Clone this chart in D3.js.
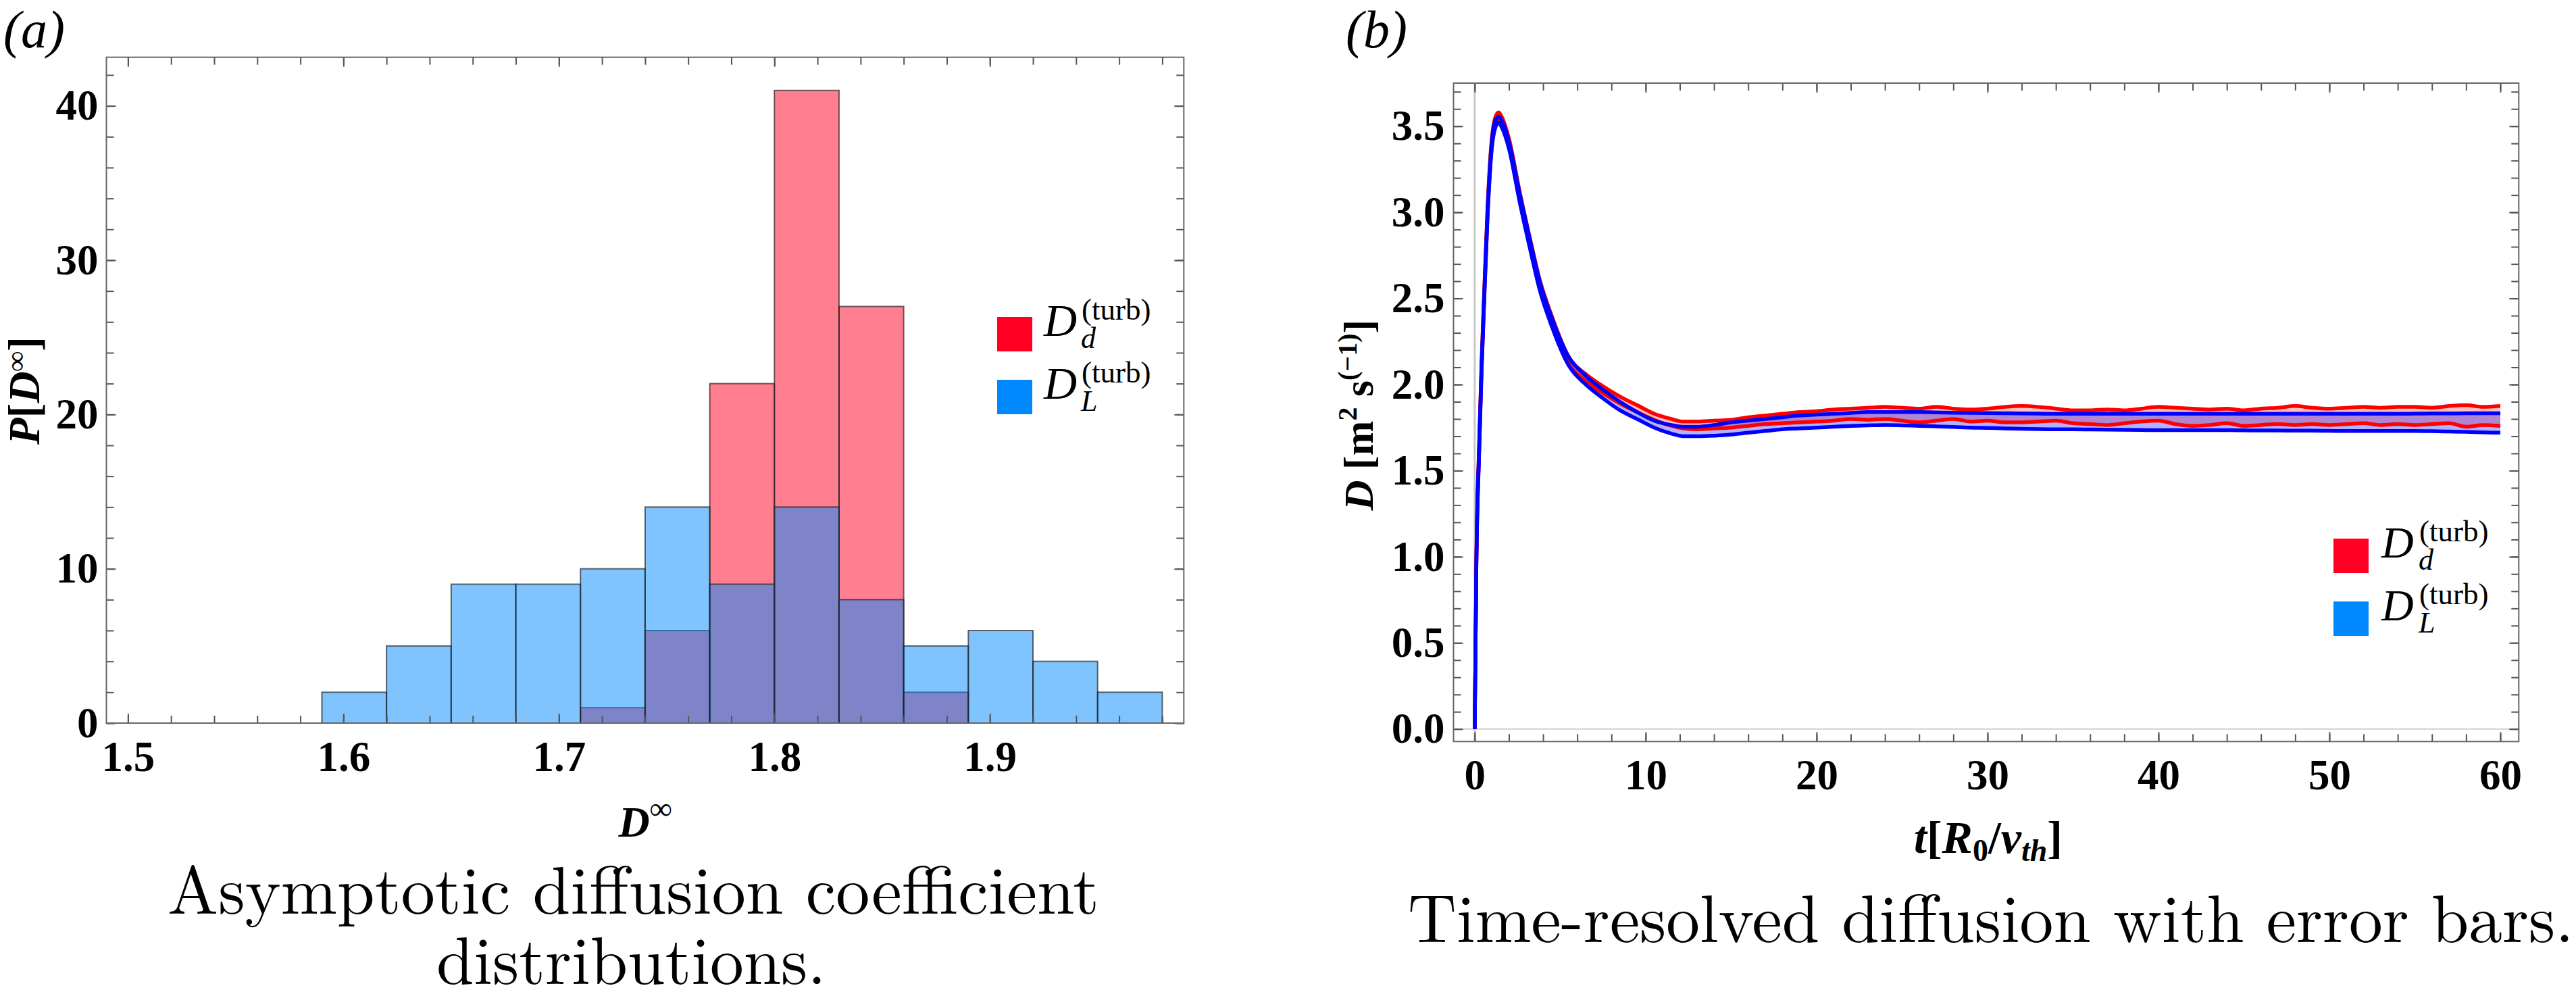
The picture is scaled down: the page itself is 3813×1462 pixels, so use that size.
<!DOCTYPE html>
<html><head><meta charset="utf-8">
<script src="https://cdn.jsdelivr.net/npm/d3@7"></script>
<style>body{margin:0;background:#fff}svg{display:block}</style>
</head><body>
<svg id="chart" width="3813" height="1462"></svg>
<script>
// ---------- Panel (a) data: histogram ----------
const aBinLeft  = [1.59,1.62,1.65,1.68,1.71,1.74,1.77,1.80,1.83,1.86,1.89,1.92,1.95];
const aBinWidth = 0.03;
const aCountsD  = [0,0,0,0,1,6,22,41,27,2,0,0,0];      // D_d^(turb)
const aCountsL  = [2,5,9,9,10,14,9,14,8,5,6,4,2];      // D_L^(turb)
const aXTicks   = [1.5,1.6,1.7,1.8,1.9];
const aYTicks   = [0,10,20,30,40];

// ---------- Panel (b) data: time-resolved bands ----------
const bTime = [0,0.1,0.25,0.4,0.55,0.75,1.0,1.2,1.4,1.6,2.0,2.65,3.3,3.8,4.5,5.5,6.5,7.5,8.5,9.5,10.5,11.5,12.2,
  13,14,15,16,17,18,19,20,21,22,23,24,25,26,27,28,29,30,31,32,33,34,35,36,37,38,39,40,
  41,42,43,44,45,46,47,48,49,50,51,52,53,54,55,56,57,58,59,60];
const bDdUpper = [0,1.02,1.63,2.13,2.53,3.03,3.43,3.55,3.58,3.55,3.43,3.11,2.82,2.61,2.40,2.16,2.06,1.99,1.93,1.88,1.83,1.80,1.785,
  1.785,1.79,1.795,1.81,1.82,1.83,1.84,1.845,1.855,1.86,1.865,1.87,1.865,1.86,1.87,1.86,1.855,1.86,1.87,1.875,1.87,1.86,1.85,1.85,1.855,1.85,1.86,1.87,
  1.865,1.86,1.855,1.86,1.85,1.86,1.865,1.875,1.865,1.86,1.865,1.87,1.865,1.87,1.87,1.865,1.875,1.88,1.87,1.875];
const bDdLower = [0,0.98,1.58,2.08,2.48,2.98,3.38,3.50,3.53,3.50,3.38,3.06,2.77,2.56,2.35,2.12,2.02,1.95,1.89,1.84,1.795,1.76,1.745,
  1.74,1.745,1.75,1.76,1.77,1.775,1.78,1.785,1.79,1.80,1.795,1.80,1.79,1.78,1.79,1.80,1.785,1.79,1.78,1.78,1.785,1.79,1.775,1.77,1.765,1.775,1.785,1.79,
  1.77,1.76,1.765,1.775,1.76,1.765,1.77,1.765,1.77,1.765,1.77,1.775,1.765,1.77,1.765,1.77,1.775,1.755,1.765,1.76];
const bDLUpper = [0,1.0,1.61,2.11,2.51,3.01,3.41,3.53,3.555,3.53,3.41,3.10,2.81,2.60,2.39,2.16,2.05,1.97,1.90,1.84,1.79,1.765,1.755,
  1.755,1.765,1.78,1.79,1.80,1.81,1.82,1.825,1.83,1.835,1.84,1.84,1.84,1.84,1.838,1.836,1.835,1.834,1.833,1.832,1.831,1.83,1.83,1.83,1.83,1.83,1.83,1.83,
  1.83,1.83,1.83,1.83,1.83,1.83,1.83,1.83,1.83,1.83,1.83,1.83,1.83,1.83,1.831,1.832,1.832,1.833,1.833,1.833];
const bDLLower = [0,0.97,1.57,2.07,2.47,2.97,3.37,3.49,3.52,3.49,3.37,3.05,2.76,2.55,2.34,2.11,2.00,1.92,1.85,1.80,1.75,1.715,1.70,
  1.70,1.703,1.71,1.72,1.73,1.74,1.745,1.75,1.755,1.76,1.763,1.765,1.763,1.76,1.757,1.754,1.75,1.748,1.745,1.743,1.741,1.74,1.74,1.739,1.738,1.737,1.736,1.735,
  1.735,1.735,1.735,1.735,1.734,1.733,1.733,1.732,1.732,1.731,1.73,1.73,1.73,1.73,1.73,1.729,1.727,1.725,1.722,1.72];
const bXTicks = [0,10,20,30,40,50,60];
const bYTicks = [0,0.5,1.0,1.5,2.0,2.5,3.0,3.5];

const legendNames = [{main:"D", sub:"d", sup:"(turb)"}, {main:"D", sub:"L", sup:"(turb)"}];
const legendColors = ["#ff0022", "#0088ff"];

// ---------- helpers ----------
const SERIF = "'Liberation Serif'";
const CM = "'Latin Modern Roman'";
const svg = d3.select("#chart");
svg.append("rect").attr("width",3813).attr("height",1462).attr("fill","#fff");

function rich(parent, x, y, parts, opts) {
  const t = parent.append("text").attr("x",x).attr("y",y)
    .attr("font-family",opts.family||SERIF).attr("font-size",opts.size).attr("fill","#000")
    .attr("text-anchor",opts.anchor||"middle");
  if (opts.transform) t.attr("transform",opts.transform);
  let prev = 0;
  parts.forEach(p => {
    const s = p.shift||0;
    const ts = t.append("tspan").text(p.t)
      .attr("font-style",p.italic?"italic":"normal")
      .attr("font-weight",p.bold?"bold":"normal");
    if (p.size) ts.attr("font-size",p.size);
    if (s!==prev) ts.attr("dy", s-prev);
    prev = s;
  });
  return t;
}

function frameAxes(g, x, y, cfg) {
  const [xl,xr] = x.range(), [yb,yt] = y.range();
  const styleAx = sel => {
    sel.select(".domain").remove();
    sel.selectAll(".tick line").attr("stroke","#555").attr("stroke-width",2);
    sel.attr("font-family",SERIF).attr("font-size",63).attr("font-weight","bold");
    sel.selectAll("text").attr("fill","#000");
  };
  g.append("g").attr("transform",`translate(0,${yb})`)
    .call(d3.axisBottom(x).tickValues(cfg.xMinor).tickSize(-11).tickFormat("")).call(styleAx);
  g.append("g").attr("transform",`translate(0,${yb})`)
    .call(d3.axisBottom(x).tickValues(cfg.xMajor).tickSize(-14).tickPadding(26).tickFormat(cfg.xFmt)).call(styleAx);
  g.append("g").attr("transform",`translate(0,${yt})`)
    .call(d3.axisTop(x).tickValues(cfg.xMinor).tickSize(-11).tickFormat("")).call(styleAx);
  g.append("g").attr("transform",`translate(0,${yt})`)
    .call(d3.axisTop(x).tickValues(cfg.xMajor).tickSize(-14).tickFormat("")).call(styleAx);
  g.append("g").attr("transform",`translate(${xl},0)`)
    .call(d3.axisLeft(y).tickValues(cfg.yMinor).tickSize(-11).tickFormat("")).call(styleAx);
  g.append("g").attr("transform",`translate(${xl},0)`)
    .call(d3.axisLeft(y).tickValues(cfg.yMajor).tickSize(-14).tickPadding(cfg.yPad).tickFormat(cfg.yFmt)).call(styleAx);
  g.append("g").attr("transform",`translate(${xr},0)`)
    .call(d3.axisRight(y).tickValues(cfg.yMinor).tickSize(-11).tickFormat("")).call(styleAx);
  g.append("g").attr("transform",`translate(${xr},0)`)
    .call(d3.axisRight(y).tickValues(cfg.yMajor).tickSize(-14).tickFormat("")).call(styleAx);
  g.append("rect").attr("x",xl).attr("y",yt).attr("width",xr-xl).attr("height",yb-yt)
    .attr("fill","none").attr("stroke","#666").attr("stroke-width",2);
}

// D baseline at yBase; square top at yBase-28
function legend(g, x, yBase, step, fs, dx) {
  legendNames.forEach((n,i) => {
    const by = yBase + i*step;
    g.append("rect").attr("x",x).attr("y",by-28).attr("width",52).attr("height",51)
      .attr("fill",legendColors[i]);
    g.append("text").attr("x",x+dx).attr("y",by).attr("font-family",SERIF)
      .attr("font-style","italic").attr("font-size",fs).text(n.main);
    g.append("text").attr("x",x+dx+56).attr("y",by-24).attr("font-family",SERIF)
      .attr("font-size",45).text(n.sup);
    g.append("text").attr("x",x+dx+55).attr("y",by+18).attr("font-family",SERIF)
      .attr("font-style","italic").attr("font-size",44).text(n.sub);
  });
}

// ================= Panel (a) =================
const gA = svg.append("g");
const xA = d3.scaleLinear().domain([1.49,1.99]).range([157.5,1752.3]);
const yA = d3.scaleLinear().domain([0,43.15]).range([1070,84.7]);

function bars(counts, color) {
  const data = aBinLeft.map((l,i)=>({l, c:counts[i]})).filter(d=>d.c>0);
  gA.append("g").selectAll("rect").data(data).join("rect")
    .attr("x",d=>xA(d.l)).attr("width",d=>xA(d.l+aBinWidth)-xA(d.l))
    .attr("y",d=>yA(d.c)).attr("height",d=>yA(0)-yA(d.c))
    .attr("fill",color).attr("fill-opacity",0.5)
    .attr("stroke","#1a1a1a").attr("stroke-opacity",0.65).attr("stroke-width",2);
}
bars(aCountsD, "#ff0022");
bars(aCountsL, "#0088ff");

frameAxes(gA, xA, yA, {
  xMajor:aXTicks, xMinor:d3.range(1.5,1.99,0.02), xFmt:d3.format(".1f"),
  yMajor:aYTicks, yMinor:d3.range(0,43,2), yFmt:d3.format("d"), yPad:12
});
legend(gA, 1476, 497, 93, 68, 69);

rich(gA, 955, 1238, [{t:"D",italic:true,bold:true},{t:"∞",bold:true,size:46,shift:-26}], {size:64});
rich(gA, 0, 0, [{t:"P",italic:true,bold:true},{t:"[",bold:true},{t:"D",italic:true,bold:true},
  {t:"∞",bold:true,size:42,shift:-20},{t:"]",bold:true,shift:0}],
  {size:65, transform:"translate(58,578) rotate(-90)"});
rich(gA, 5, 70, [{t:"(",italic:true},{t:"a",italic:true},{t:")",italic:true}], {size:78, anchor:"start"});

gA.append("text").attr("x",248).attr("y",1352).attr("font-family",CM).attr("font-size",100)
  .attr("textLength",1379).attr("lengthAdjust","spacingAndGlyphs").text("Asymptotic diffusion coefficient");
gA.append("text").attr("x",646).attr("y",1456).attr("font-family",CM).attr("font-size",100)
  .attr("textLength",577).attr("lengthAdjust","spacingAndGlyphs").text("distributions.");

// ================= Panel (b) =================
const gB = svg.append("g");
const xB = d3.scaleLinear().domain([-1.24,61.08]).range([2151.5,3728.3]);
const yB = d3.scaleLinear().domain([-0.073,3.75]).range([1097.3,123]);

svg.append("clipPath").attr("id","clipB").append("rect")
  .attr("x",2151.5).attr("y",123).attr("width",3728.3-2151.5).attr("height",1097.3-123);

const plotB = gB.append("g").attr("clip-path","url(#clipB)");
plotB.append("line").attr("x1",xB(0)).attr("x2",xB(0)).attr("y1",123).attr("y2",1097.3)
  .attr("stroke","#c8c8c8").attr("stroke-width",3);
plotB.append("line").attr("x1",2151.5).attr("x2",3728.3).attr("y1",yB(0)).attr("y2",yB(0))
  .attr("stroke","#d0d0d0").attr("stroke-width",2);

const idx = d3.range(bTime.length);
const areaBand = (up, lo) => d3.area().x(i=>xB(bTime[i])).y0(i=>yB(lo[i])).y1(i=>yB(up[i])).curve(d3.curveMonotoneX);
const lineOf = arr => d3.line().x(i=>xB(bTime[i])).y(i=>yB(arr[i])).curve(d3.curveMonotoneX);

plotB.append("path").attr("d",areaBand(bDdUpper,bDdLower)(idx)).attr("fill","#ff0000").attr("fill-opacity",0.25);
plotB.append("path").attr("d",areaBand(bDLUpper,bDLLower)(idx)).attr("fill","#0000ff").attr("fill-opacity",0.3);
[bDdUpper,bDdLower].forEach(a => plotB.append("path").attr("d",lineOf(a)(idx))
  .attr("fill","none").attr("stroke","#ff0000").attr("stroke-width",5.5).attr("stroke-linejoin","round"));
[bDLUpper,bDLLower].forEach(a => plotB.append("path").attr("d",lineOf(a)(idx))
  .attr("fill","none").attr("stroke","#0000ff").attr("stroke-width",5.5).attr("stroke-linejoin","round"));

frameAxes(gB, xB, yB, {
  xMajor:bXTicks, xMinor:d3.range(0,61,2), xFmt:d3.format("d"),
  yMajor:bYTicks, yMinor:d3.range(0,3.75,0.1), yFmt:d3.format(".1f"), yPad:13
});
legend(gB, 3454, 825, 93, 66, 71);

rich(gB, 2943, 1262, [{t:"t",italic:true,bold:true},{t:"[",bold:true},{t:"R",italic:true,bold:true},
  {t:"0",bold:true,size:46,shift:12},{t:"/",bold:true,shift:0},{t:"v",italic:true,bold:true},
  {t:"th",italic:true,bold:true,size:46,shift:12},{t:"]",bold:true,shift:0}], {size:68});
rich(gB, 0, 0, [{t:"D",italic:true,bold:true},{t:" [m",bold:true},{t:"2",bold:true,size:40,shift:-24},
  {t:" s",bold:true,shift:0},{t:"(−1)",bold:true,size:40,shift:-24},{t:"]",bold:true,shift:0}],
  {size:62, transform:"translate(2032,614) rotate(-90)"});
rich(gB, 1992, 70, [{t:"(",italic:true},{t:"b",italic:true},{t:")",italic:true}], {size:78, anchor:"start"});

gB.append("text").attr("x",2084).attr("y",1394).attr("font-family",CM).attr("font-size",100)
  .attr("textLength",1726).attr("lengthAdjust","spacingAndGlyphs").text("Time-resolved diffusion with error bars.");
</script>
</body></html>
